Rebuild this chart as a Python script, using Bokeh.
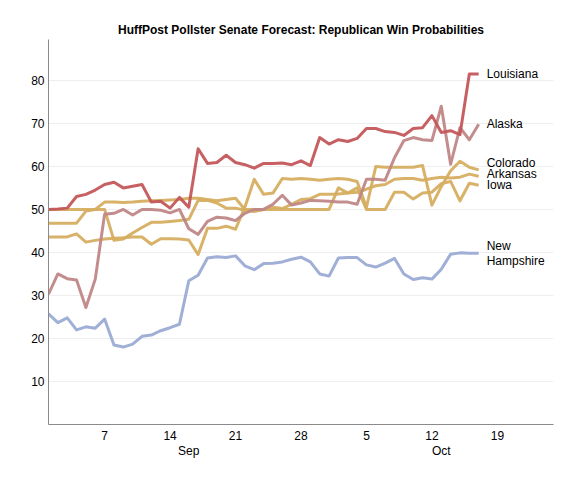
from bokeh.plotting import figure
from bokeh.models import FixedTicker, LinearAxis, Range1d
from bokeh.embed import file_html
from bokeh.resources import INLINE
from bokeh.core.properties import value

# x values: days since Sep 1, 2014 (Sep 1 .. Oct 17)
days = list(range(47))

louisiana = [50.0, 50.1, 50.3, 53.0, 53.5, 54.5, 55.8, 56.3, 55.0, 55.4, 55.8, 51.7, 51.9, 50.3, 52.8, 50.5,
             64.1, 60.7, 60.9, 62.6, 60.9, 60.4, 59.6, 60.7, 60.7, 60.8, 60.4, 61.3, 60.2, 66.7, 65.2, 66.2,
             65.8, 66.5, 68.8, 68.8, 68.1, 67.9, 67.2, 68.8, 69.0, 71.8, 67.9, 68.3, 67.4, 81.5, 81.5]
alaska = [30.3, 35.0, 33.9, 33.6, 27.2, 33.8, 48.9, 49.1, 50.0, 48.7, 50.0, 50.0, 49.8, 49.2, 50.0, 45.5,
          44.2, 47.2, 48.2, 48.0, 47.4, 49.1, 50.0, 50.0, 51.2, 53.3, 51.0, 51.5, 52.1, 52.0, 51.9, 51.7,
          51.7, 51.2, 57.0, 57.0, 56.8, 62.0, 66.0, 66.7, 66.2, 66.0, 74.0, 60.5, 69.0, 66.2, 69.8]
colorado = [43.6, 43.6, 43.6, 44.3, 42.4, 42.8, 43.1, 43.3, 43.4, 43.6, 43.6, 41.9, 43.2, 43.2, 43.1, 42.9,
            39.5, 45.6, 45.6, 46.1, 45.4, 50.5, 57.0, 53.5, 53.8, 57.2, 57.0, 57.2, 57.0, 56.8, 57.0, 57.2,
            57.0, 56.5, 50.5, 60.0, 59.8, 59.8, 59.8, 59.8, 60.2, 51.0, 55.3, 59.0, 61.2, 59.8, 59.2]
arkansas = [50.0, 50.0, 50.0, 50.0, 50.0, 50.0, 50.0, 42.8, 43.1, 44.5, 45.8, 47.0, 47.0, 47.2, 47.4, 47.7,
            52.1, 52.1, 51.5, 50.3, 50.3, 49.8, 49.5, 50.0, 50.5, 50.2, 51.2, 52.3, 52.5, 53.5, 53.5, 53.6,
            53.8, 54.0, 54.7, 55.5, 55.8, 57.0, 57.2, 57.2, 56.8, 57.2, 57.5, 57.3, 57.5, 58.2, 57.7]
iowa = [46.8, 46.8, 46.8, 46.8, 49.6, 50.0, 51.7, 51.7, 51.6, 51.7, 51.9, 52.0, 52.1, 52.2, 52.3, 52.6,
        52.6, 52.3, 52.0, 52.3, 52.6, 50.0, 50.0, 50.0, 50.0, 50.0, 50.0, 50.0, 50.0, 50.0, 50.0, 55.0,
        53.8, 55.0, 50.0, 50.0, 50.0, 54.0, 54.0, 52.4, 53.8, 54.0, 56.0, 56.5, 52.0, 56.1, 55.6]
new_hampshire = [25.7, 23.7, 24.8, 22.0, 22.7, 22.4, 24.5, 18.5, 18.0, 18.7, 20.5, 20.8, 21.8, 22.5, 23.3, 33.4,
                 34.7, 38.7, 39.0, 38.8, 39.2, 36.9, 36.0, 37.4, 37.5, 37.8, 38.4, 38.9, 37.8, 35.0, 34.5, 38.7,
                 38.8, 38.8, 37.1, 36.6, 37.5, 38.6, 35.0, 33.7, 34.1, 33.8, 36.1, 39.6, 39.9, 39.8, 39.8]

series_names = ["New\nHampshire", "Iowa", "Arkansas", "Colorado", "Alaska", "Louisiana"]
series_values = [new_hampshire, iowa, arkansas, colorado, alaska, louisiana]
series_colors = ["#9babd3", "#d6ae60", "#d6ae60", "#d6ae60", "#c08787", "#c4575a"]

y_ticks = [10, 20, 30, 40, 50, 60, 70, 80]
x_ticks = [6, 13, 20, 27, 34, 41, 48]
x_tick_labels = ["7", "14", "21", "28", "5", "12", "19"]
month_ticks = [15, 42]
month_labels = ["Sep", "Oct"]

FONT = "Liberation Sans"

p = figure(width=560, height=472, x_range=Range1d(0, 54), y_range=Range1d(0, 89.5),
           output_backend="svg", toolbar_location=None,
           min_border_left=48, min_border_right=7, min_border_top=39, min_border_bottom=48,
           title="HuffPost Pollster Senate Forecast: Republican Win Probabilities")
p.title.text_font = FONT
p.title.text_font_size = "12px"
p.title.text_font_style = "bold"
p.title.align = "center"
p.title.text_color = "#000000"
p.title.standoff = 6
p.outline_line_color = None
p.background_fill_color = "white"
p.border_fill_color = "white"

p.xgrid.visible = False
p.ygrid.ticker = FixedTicker(ticks=y_ticks)
p.ygrid.grid_line_color = "#eeeeee"

for ax in (p.xaxis[0], p.yaxis[0]):
    ax.axis_line_color = "#8a8a8a"
    ax.major_tick_line_color = None
    ax.minor_tick_line_color = None
    ax.major_tick_out = 0
    ax.major_tick_in = 0
    ax.minor_tick_out = 0
    ax.minor_tick_in = 0
    ax.major_label_text_font = FONT
    ax.major_label_text_font_size = "12px"
    ax.major_label_text_color = "#000000"
    ax.major_label_standoff = 4
p.xaxis[0].major_label_standoff = 6

p.yaxis[0].ticker = FixedTicker(ticks=y_ticks)
p.xaxis[0].ticker = FixedTicker(ticks=x_ticks)
p.xaxis[0].major_label_overrides = {t: l for t, l in zip(x_ticks, x_tick_labels)}

month_axis = LinearAxis(ticker=FixedTicker(ticks=month_ticks),
                        major_label_overrides={t: l for t, l in zip(month_ticks, month_labels)},
                        axis_line_color=None, major_tick_line_color=None, minor_tick_line_color=None,
                        major_tick_out=0, major_tick_in=0, minor_tick_out=0, minor_tick_in=0,
                        major_label_text_font=FONT, major_label_text_font_size="12px",
                        major_label_text_color="#000000", major_label_standoff=1)
p.add_layout(month_axis, "below")

for name, vals, col in zip(series_names, series_values, series_colors):
    p.line(days, vals, line_color=col, line_width=3, line_alpha=0.95, line_join="round")

# label positions: avoid overlap, stacking upward from the lowest
order = sorted(range(len(series_values)), key=lambda i: series_values[i][-1])
label_y = [0.0] * len(series_values)
prev = -1e9
for i in order:
    yv = max(series_values[i][-1], prev + 2.65)
    label_y[i] = yv
    prev = yv

p.text(x=[days[-1]] * len(series_names), y=label_y, text=series_names,
       x_offset=8, text_align="left", text_baseline="middle",
       text_font=value(FONT), text_font_size="12px", text_color="#000000", text_line_height=1.1)

open("out.html", "w").write(file_html(p, INLINE))
